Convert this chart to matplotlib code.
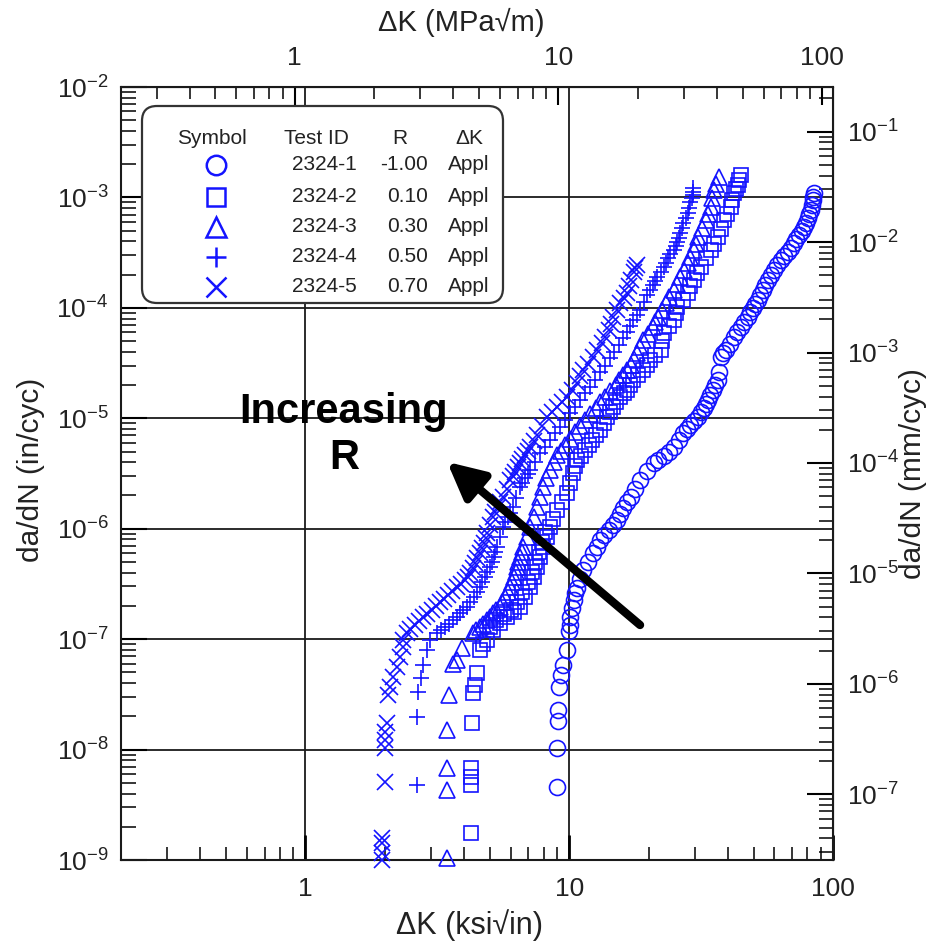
"""Fatigue crack growth rate da/dN vs Delta K, five R ratios (tests 2324-1..5)."""

import matplotlib

matplotlib.use("Agg")
import matplotlib.pyplot as plt
import numpy as np
from matplotlib.lines import Line2D
from matplotlib.patches import FancyBboxPatch
from matplotlib.ticker import FixedLocator, FuncFormatter, LogLocator, NullFormatter

plt.rcParams["font.family"] = ["Liberation Sans", "DejaVu Sans"]
plt.rcParams["mathtext.fontset"] = "custom"
plt.rcParams["mathtext.rm"] = "Liberation Sans"
plt.rcParams["mathtext.it"] = "Liberation Sans:italic"
plt.rcParams["mathtext.bf"] = "Liberation Sans:bold"

KSI_TO_MPA = 1.0988
IN_TO_MM = 25.4

# --- data (Delta K in ksi*sqrt(in), da/dN in in/cycle) ---
test_ids = ["2324-1", "2324-2", "2324-3", "2324-4", "2324-5"]
r_labels = ["-1.00", "0.10", "0.30", "0.50", "0.70"]
dk_mode = ["Appl", "Appl", "Appl", "Appl", "Appl"]

dk_r_m100 = [9.0, 9.0, 9.08, 9.08, 9.16, 9.33, 9.49, 9.83, 10.0, 10.1,
             10.4, 10.7, 11.3, 12.3, 13.1, 14.1, 15.2, 16.0, 17.1, 18.6,
             20.9, 22.8, 24.9, 27.1, 28.8, 30.7, 32.3, 33.5, 35.0, 36.5,
             37.5, 39.2, 42.0, 44.7, 47.5, 49.6, 51.8, 54.2, 56.6, 59.7,
             63.4, 67.4, 71.1, 74.3, 77.6, 80.4, 82.4, 83.9, 84.7,
             10.05, 10.25, 10.55, 11.0, 11.8, 12.7, 13.6, 14.6, 15.6, 16.5,
             17.8, 19.7, 21.8, 23.8, 26.0, 28.0, 29.7, 31.5, 32.9, 34.2,
             35.7, 36.9, 38.3, 40.6, 43.3, 46.0, 48.5, 50.7, 53.0, 55.4,
             58.1, 61.5, 65.4, 69.2, 72.7, 76.0, 79.0, 81.4, 83.2, 84.3]
dadn_r_m100 = [4.6e-9, 1.03e-8, 1.8e-8, 2.3e-8, 3.7e-8, 4.7e-8, 5.8e-8, 7.9e-8, 1.18e-7, 1.58e-7,
               2.25e-7, 2.9e-7, 4.2e-7, 6.0e-7, 7.9e-7, 9.7e-7, 1.2e-6, 1.54e-6, 1.93e-6, 2.75e-6,
               3.9e-6, 4.6e-6, 5.5e-6, 7.3e-6, 8.7e-6, 1.03e-5, 1.24e-5, 1.46e-5, 1.8e-5, 2.2e-5,
               3.6e-5, 4.15e-5, 5.4e-5, 6.7e-5, 8.3e-5, 9.95e-5, 1.18e-4, 1.45e-4, 1.79e-4, 2.2e-4,
               2.7e-4, 3.2e-4, 3.86e-4, 4.6e-4, 5.4e-4, 6.5e-4, 7.7e-4, 9.5e-4, 1.1e-3,
               1.35e-7, 1.9e-7, 2.6e-7, 3.5e-7, 5.0e-7, 6.9e-7, 8.8e-7, 1.08e-6, 1.35e-6, 1.75e-6,
               2.3e-6, 3.3e-6, 4.2e-6, 5.0e-6, 6.3e-6, 8.0e-6, 9.5e-6, 1.13e-5, 1.35e-5, 1.62e-5,
               2.0e-5, 2.6e-5, 3.9e-5, 4.7e-5, 6.0e-5, 7.5e-5, 9.1e-5, 1.08e-4, 1.3e-4, 1.62e-4,
               2.0e-4, 2.45e-4, 2.95e-4, 3.5e-4, 4.2e-4, 5.0e-4, 5.9e-4, 7.1e-4, 8.6e-4, 1.0e-3]

dk_r010 = [4.24, 4.24, 4.24, 4.24, 4.28, 4.32, 4.39, 4.47, 4.59,
           4.88, 5.14, 5.46, 5.81, 6.18, 6.51, 6.80, 7.11, 7.36, 7.55,
           7.76, 7.96, 8.25, 8.47, 9.0, 9.83, 10.3, 10.7, 11.5, 12.2,
           13.1, 13.9, 14.7, 15.6, 16.6, 17.5, 19.1, 20.3, 22.2, 22.8,
           24.9, 25.7, 28.1, 29.6, 31.5, 34.4, 36.5, 38.5, 40.9, 42.1,
           43.5, 44.7,
           4.7, 5.0, 5.3, 5.65, 6.0, 6.35, 6.65, 6.95, 7.25, 7.45,
           7.66, 7.86, 8.1, 8.7, 9.4, 10.05, 10.5, 11.1, 11.85, 12.6,
           13.5, 14.3, 15.1, 16.1, 17.0, 18.3, 19.7, 21.2, 22.5, 23.8,
           25.3, 26.9, 28.8, 30.5, 33.0, 35.4, 37.5, 39.7, 41.5, 42.8, 44.1]
dadn_r010 = [1.75e-9, 4.76e-9, 5.62e-9, 6.79e-9, 1.73e-8, 3.24e-8, 3.83e-8, 4.92e-8, 7.94e-8,
             9.8e-8, 1.21e-7, 1.40e-7, 1.58e-7, 1.76e-7, 1.95e-7, 2.40e-7, 2.96e-7, 3.65e-7, 4.49e-7,
             5.53e-7, 6.81e-7, 8.39e-7, 1.03e-6, 1.47e-6, 2.10e-6, 3.19e-6, 4.18e-6, 5.15e-6, 6.35e-6,
             7.82e-6, 1.03e-5, 1.26e-5, 1.56e-5, 1.80e-5, 2.22e-5, 2.73e-5, 3.37e-5, 4.15e-5, 5.91e-5,
             7.75e-5, 1.02e-4, 1.36e-4, 1.79e-4, 2.34e-4, 3.34e-4, 4.38e-4, 6.24e-4, 8.18e-4, 1.10e-3,
             1.29e-3, 1.60e-3,
             9.0e-8, 1.3e-7, 1.5e-7, 1.68e-7, 1.85e-7, 2.15e-7, 2.65e-7, 3.3e-7, 4.05e-7, 5.0e-7,
             6.1e-7, 7.6e-7, 9.3e-7, 1.22e-6, 1.75e-6, 2.6e-6, 3.7e-6, 4.6e-6, 5.7e-6, 7.0e-6,
             9.0e-6, 1.14e-5, 1.4e-5, 1.68e-5, 2.0e-5, 2.45e-5, 3.05e-5, 3.75e-5, 5.0e-5, 6.8e-5,
             8.9e-5, 1.18e-4, 1.57e-4, 2.05e-4, 2.85e-4, 3.8e-4, 5.2e-4, 7.1e-4, 9.5e-4, 1.2e-3, 1.45e-3]

dk_r030 = [3.44, 3.44, 3.44, 3.44, 3.50, 3.62, 3.75, 3.92,
           4.32, 4.59, 4.88, 5.14, 5.46, 5.71, 5.97, 6.18, 6.34, 6.51,
           6.68, 7.11, 7.55, 7.96, 8.47, 9.0, 9.66, 10.5, 11.5, 12.6,
           13.7, 15.0, 16.0, 17.1, 18.1, 19.1, 20.7, 21.8, 23.2, 24.9,
           26.4, 28.1, 29.6, 30.9, 32.9, 34.4, 35.3, 36.9,
           4.45, 4.73, 5.0, 5.3, 5.58, 5.84, 6.08, 6.26, 6.42, 6.6,
           6.9, 7.33, 7.75, 8.2, 8.73, 9.33, 10.1, 11.0, 12.0, 13.1,
           14.3, 15.5, 16.5, 17.6, 18.6, 19.9, 21.2, 22.5, 24.0, 25.6,
           27.2, 28.8, 30.2, 31.9, 33.6, 34.8, 36.1]
dadn_r030 = [1.04e-9, 4.29e-9, 6.79e-9, 1.50e-8, 3.11e-8, 5.94e-8, 6.46e-8, 8.29e-8,
             1.13e-7, 1.28e-7, 1.49e-7, 1.72e-7, 1.95e-7, 2.40e-7, 2.96e-7, 3.65e-7, 4.49e-7, 5.53e-7,
             6.81e-7, 1.03e-6, 1.57e-6, 2.38e-6, 3.40e-6, 4.64e-6, 5.72e-6, 7.50e-6, 9.63e-6, 1.24e-5,
             1.56e-5, 2.0e-5, 2.46e-5, 3.03e-5, 3.90e-5, 5.11e-5, 6.70e-5, 8.26e-5, 1.10e-4, 1.45e-4,
             1.90e-4, 2.55e-4, 3.34e-4, 4.38e-4, 6.24e-4, 8.18e-4, 1.17e-3, 1.53e-3,
             1.2e-7, 1.38e-7, 1.6e-7, 1.83e-7, 2.17e-7, 2.68e-7, 3.3e-7, 4.05e-7, 5.0e-7, 6.1e-7,
             8.4e-7, 1.27e-6, 1.95e-6, 2.85e-6, 4.0e-6, 5.1e-6, 6.5e-6, 8.5e-6, 1.1e-5, 1.4e-5,
             1.78e-5, 2.22e-5, 2.75e-5, 3.45e-5, 4.45e-5, 5.8e-5, 7.4e-5, 9.5e-5, 1.26e-4, 1.65e-4,
             2.2e-4, 2.9e-4, 3.8e-4, 5.3e-4, 7.1e-4, 9.8e-4, 1.33e-3]

dk_r050 = [2.64, 2.64, 2.67, 2.74, 2.79, 2.88,
           3.15, 3.38, 3.62, 3.85, 4.09, 4.35, 4.59, 4.79, 5.01, 5.19,
           5.32, 5.61, 5.86, 6.12, 6.51, 6.80, 7.11, 7.76, 8.47, 9.24,
           10.1, 11.0, 12.0, 13.1, 14.3, 15.4, 16.6, 17.5, 18.6, 19.8,
           20.7, 21.6, 22.8, 23.6, 24.9, 25.7, 26.4, 27.1, 28.1, 28.8,
           29.4, 29.4,
           2.96, 3.26, 3.5, 3.74, 3.97, 4.22, 4.47, 4.69, 4.9, 5.1,
           5.25, 5.46, 5.73, 5.99, 6.3, 6.65, 6.95, 7.43, 8.1, 8.85,
           9.65, 10.5, 11.5, 12.5, 13.7, 14.8, 16.0, 17.0, 18.0, 19.2,
           20.2, 21.1, 22.2, 23.2, 24.2, 25.3, 26.0, 26.7, 27.6, 28.4, 29.1, 29.4]
dadn_r050 = [4.76e-9, 1.97e-8, 3.31e-8, 4.43e-8, 5.81e-8, 7.94e-8,
             1.13e-7, 1.28e-7, 1.49e-7, 1.72e-7, 1.95e-7, 2.40e-7, 2.96e-7, 3.65e-7, 4.49e-7, 5.53e-7,
             6.81e-7, 1.03e-6, 1.27e-6, 1.57e-6, 2.38e-6, 2.87e-6, 3.40e-6, 4.84e-6, 6.35e-6, 8.32e-6,
             1.11e-5, 1.46e-5, 1.92e-5, 2.62e-5, 3.51e-5, 4.60e-5, 6.04e-5, 7.75e-5, 9.55e-5, 1.31e-4,
             1.61e-4, 1.90e-4, 2.34e-4, 2.83e-4, 3.34e-4, 3.94e-4, 4.76e-4, 5.86e-4, 7.22e-4, 9.08e-4,
             1.05e-3, 1.22e-3,
             9.8e-8, 1.2e-7, 1.38e-7, 1.6e-7, 1.83e-7, 2.17e-7, 2.68e-7, 3.3e-7, 4.05e-7, 5.0e-7,
             6.1e-7, 8.4e-7, 1.14e-6, 1.4e-6, 1.9e-6, 2.6e-6, 3.1e-6, 4.05e-6, 5.5e-6, 7.3e-6,
             9.6e-6, 1.27e-5, 1.68e-5, 2.24e-5, 3.0e-5, 4.0e-5, 5.3e-5, 6.8e-5, 8.6e-5, 1.12e-4,
             1.45e-4, 1.75e-4, 2.1e-4, 2.57e-4, 3.07e-4, 3.63e-4, 4.33e-4, 5.28e-4, 6.5e-4, 8.1e-4,
             9.8e-4, 1.13e-3]

dk_r070 = [1.96, 1.96, 1.96, 1.96, 2.0, 2.0, 2.0, 2.0,
           2.03, 2.05, 2.09, 2.14, 2.22, 2.28, 2.34,
           2.42, 2.60, 2.79, 3.01, 3.23, 3.47, 3.75, 4.03, 4.20, 4.39,
           4.59, 4.75, 4.88, 5.14, 5.37, 5.61, 5.97, 6.23, 6.51, 6.80,
           7.11, 7.55, 8.25, 9.0, 9.83, 10.7, 11.3, 12.3, 13.3, 14.1,
           14.7, 15.6, 16.6, 17.1, 18.1,
           2.34, 2.5, 2.7, 2.9, 3.12, 3.35, 3.6, 3.9, 4.12, 4.3,
           4.49, 4.67, 4.82, 5.0, 5.25, 5.49, 5.79, 6.1, 6.37, 6.65,
           6.95, 7.33, 7.9, 8.6, 9.4, 10.25, 11.0, 11.8, 12.8, 13.7,
           14.4, 15.15, 16.1, 16.85, 17.6, 17.8]
dadn_r070 = [1.0e-9, 1.15e-9, 1.42e-9, 1.57e-9, 5.07e-9, 1.03e-8, 1.22e-8, 1.44e-8,
             1.73e-8, 3.11e-8, 3.67e-8, 4.53e-8, 5.57e-8, 6.87e-8, 8.47e-8,
             1.13e-7, 1.34e-7, 1.58e-7, 1.83e-7, 2.16e-7, 2.5e-7, 2.96e-7, 3.42e-7, 3.96e-7, 4.88e-7,
             6.01e-7, 7.41e-7, 9.12e-7, 1.27e-6, 1.57e-6, 1.93e-6, 2.75e-6, 3.26e-6, 3.93e-6, 4.64e-6,
             5.48e-6, 7.05e-6, 1.03e-5, 1.26e-5, 1.56e-5, 2.08e-5, 2.73e-5, 3.58e-5, 4.8e-5, 6.3e-5,
             8.26e-5, 1.1e-4, 1.36e-4, 1.79e-4, 2.44e-4,
             9.8e-8, 1.23e-7, 1.46e-7, 1.7e-7, 2.0e-7, 2.33e-7, 2.72e-7, 3.18e-7, 3.68e-7, 4.4e-7,
             5.4e-7, 6.7e-7, 8.2e-7, 1.08e-6, 1.41e-6, 1.75e-6, 2.3e-6, 3.0e-6, 3.6e-6, 4.3e-6,
             5.05e-6, 6.2e-6, 8.5e-6, 1.14e-5, 1.4e-5, 1.8e-5, 2.4e-5, 3.1e-5, 4.15e-5, 5.5e-5,
             7.2e-5, 9.5e-5, 1.22e-4, 1.57e-4, 2.1e-4, 2.3e-4]

series = [(dk_r_m100, dadn_r_m100), (dk_r010, dadn_r010), (dk_r030, dadn_r030),
          (dk_r050, dadn_r050), (dk_r070, dadn_r070)]

# labelled decades on each axis
ksi_ticks = [1, 10, 100]
mpa_ticks = [1, 10, 100]
in_ticks = [1e-9, 1e-8, 1e-7, 1e-6, 1e-5, 1e-4, 1e-3, 1e-2]
mm_ticks = [1e-7, 1e-6, 1e-5, 1e-4, 1e-3, 1e-2, 1e-1]

# --- styles ---
BLUE = "#1414ff"
INK = "#222222"
markers = ["o", "s", "^", "+", "x"]
msizes = [11.5, 9.5, 12, 12, 11.5]
leg_sizes = [14, 13, 14, 15, 14]


def pow10(v, pos):
    e = int(round(np.log10(v)))
    return rf"$\mathregular{{10^{{{e}}}}}$"


def plain(v, pos):
    return f"{v:g}"


def minor_loc():
    return LogLocator(base=10, subs=np.arange(2, 10), numticks=20)


fig = plt.figure(figsize=(9.32, 9.44), dpi=100)
ax = fig.add_axes([121 / 932, 1 - 860 / 944, 712 / 932, 773 / 944])
ax.set_xscale("log")
ax.set_yscale("log")
ax.set_xlim(0.2, 100)
ax.set_ylim(1e-9, 1e-2)

for (dk, dadn), m, ms in zip(series, markers, msizes):
    ax.plot(dk, dadn, linestyle="none", marker=m, ms=ms, mfc="none",
            mec=BLUE, mew=1.2, clip_on=False, zorder=3)

ax.grid(which="major", color="#1a1a1a", lw=1.3, zorder=1)
for s in ax.spines.values():
    s.set_linewidth(1.5)
    s.set_color("#1a1a1a")

ax.xaxis.set_major_locator(FixedLocator(ksi_ticks))
ax.yaxis.set_major_locator(FixedLocator(in_ticks))
for axis in (ax.xaxis, ax.yaxis):
    axis.set_minor_locator(minor_loc())
    axis.set_minor_formatter(NullFormatter())
ax.xaxis.set_major_formatter(FuncFormatter(plain))
ax.yaxis.set_major_formatter(FuncFormatter(pow10))

ax.tick_params(which="both", direction="in", top=False, right=False,
               labelcolor=INK, labelsize=19)
ax.tick_params(axis="y", which="major", length=19, width=1.5, pad=9)
ax.tick_params(axis="y", which="minor", length=11, width=1.1)
ax.tick_params(axis="x", which="major", length=18, width=2, pad=12)
ax.tick_params(axis="x", which="minor", length=9.5, width=1.1)

# secondary axes: MPa*sqrt(m) on top, mm/cycle on right
secx = ax.secondary_xaxis("top", functions=(lambda x: x * KSI_TO_MPA,
                                            lambda x: x / KSI_TO_MPA))
secx.xaxis.set_major_locator(FixedLocator(mpa_ticks))
secx.xaxis.set_minor_locator(minor_loc())
secx.xaxis.set_major_formatter(FuncFormatter(plain))
secx.xaxis.set_minor_formatter(NullFormatter())
secx.tick_params(which="both", direction="in", labelcolor=INK, labelsize=19)
secx.tick_params(which="major", length=13, width=1.5, pad=12)
secx.tick_params(which="minor", length=8.5, width=1.1)

secy = ax.secondary_yaxis("right", functions=(lambda y: y * IN_TO_MM,
                                              lambda y: y / IN_TO_MM))
secy.yaxis.set_major_locator(FixedLocator(mm_ticks))
secy.yaxis.set_minor_locator(minor_loc())
secy.yaxis.set_major_formatter(FuncFormatter(pow10))
secy.yaxis.set_minor_formatter(NullFormatter())
secy.tick_params(which="both", direction="in", labelcolor=INK, labelsize=19)
secy.tick_params(which="major", length=19, width=1.5, pad=10)
secy.tick_params(which="minor", length=10, width=1.1)

# axis titles
ax.text(0.489, -0.084, "ΔK (ksi√in)", transform=ax.transAxes, ha="center",
        va="center", fontsize=22, color=INK)
ax.text(0.478, 1.084, "ΔK (MPa√m)", transform=ax.transAxes, ha="center",
        va="center", fontsize=21, color=INK)
ax.text(-0.1264, 0.505, "da/dN (in/cyc)", transform=ax.transAxes, ha="center",
        va="center", rotation=90, fontsize=21.5, color=INK)
ax.text(1.112, 0.5, "da/dN (mm/cyc)", transform=ax.transAxes, ha="center",
        va="center", rotation=90, fontsize=21.5, color=INK)

# annotation
ax.text(0.313, 0.55, "Increasing\nR", transform=ax.transAxes, ha="center",
        va="center", multialignment="center", fontsize=30, fontweight="bold",
        color="black", zorder=6)
ax.annotate("", xy=(0.458, 0.515), xytext=(0.729, 0.304),
            xycoords="axes fraction", textcoords="axes fraction",
            arrowprops=dict(arrowstyle="-|>,head_length=1.1,head_width=0.55",
                            lw=6, color="black", mutation_scale=20,
                            shrinkA=0, shrinkB=0),
            zorder=6)

# legend table (inches from bottom-left of figure)
tr = fig.dpi_scale_trans
fig.add_artist(FancyBboxPatch((1.42, 6.41), 3.61, 1.97,
                              boxstyle="round,pad=0,rounding_size=0.15",
                              transform=tr, fc="white", ec="#333333",
                              lw=1.6, zorder=5))
head_y = 8.06
row_y = [7.79, 7.47, 7.17, 6.87, 6.57]
fig.text(2.12, head_y, "Symbol", transform=tr, ha="center", va="center",
         fontsize=15, color=INK, zorder=6)
fig.text(3.16, head_y, "Test ID", transform=tr, ha="center", va="center",
         fontsize=15, color=INK, zorder=6)
fig.text(4.00, head_y, "R", transform=tr, ha="center", va="center",
         fontsize=15, color=INK, zorder=6)
fig.text(4.69, head_y, "ΔK", transform=tr, ha="center", va="center",
         fontsize=15, color=INK, zorder=6)
for i, y in enumerate(row_y):
    fig.add_artist(Line2D([2.16], [y], transform=tr, linestyle="none",
                          marker=markers[i], ms=leg_sizes[i], mfc="none",
                          mec=BLUE, mew=1.8, zorder=6))
    fig.text(3.57, y, test_ids[i], transform=tr, ha="right", va="center",
             fontsize=15, color=INK, zorder=6)
    fig.text(4.28, y, r_labels[i], transform=tr, ha="right", va="center",
             fontsize=15, color=INK, zorder=6)
    fig.text(4.48, y, dk_mode[i], transform=tr, ha="left", va="center",
             fontsize=15, color=INK, zorder=6)

fig.savefig("out.png", dpi=100)
